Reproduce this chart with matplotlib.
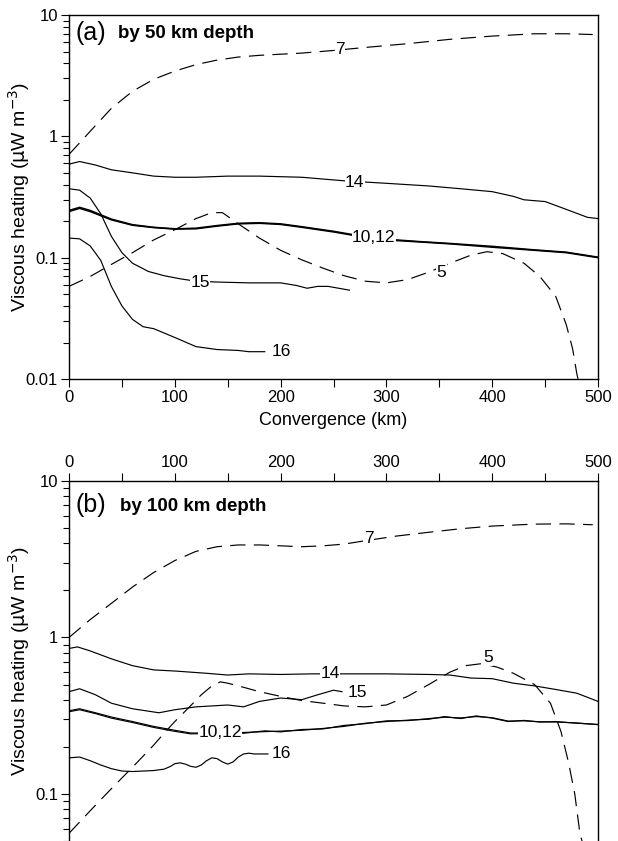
import numpy as np
import matplotlib
matplotlib.use("Agg")
import matplotlib.pyplot as plt
from matplotlib.ticker import LogLocator, NullFormatter, FixedLocator

plt.rcParams['font.family'] = ['Liberation Sans', 'DejaVu Sans']
plt.rcParams['lines.scale_dashes'] = False

# ---- (a) viscous heating, by 50 km depth ----
a7_x = [0, 20, 40, 60, 80, 100, 120, 140, 160, 180, 200, 220, 250, 280, 320, 360, 400, 440, 470, 495]
a7_y = [0.71, 1.1, 1.7, 2.35, 2.95, 3.45, 3.9, 4.25, 4.5, 4.65, 4.75, 4.85, 5.1, 5.4, 5.8, 6.3, 6.7, 7.0, 7.0, 6.9]

a14_x = [0, 10, 25, 40, 60, 80, 100, 120, 150, 180, 220, 260, 300, 340, 370, 400, 420, 430, 450, 470, 490, 500]
a14_y = [0.59, 0.62, 0.58, 0.53, 0.5, 0.47, 0.46, 0.46, 0.47, 0.47, 0.46, 0.43, 0.41, 0.39, 0.37, 0.35, 0.32, 0.30, 0.29, 0.25, 0.215, 0.21]

a10_x = [0, 10, 20, 40, 60, 80, 100, 120, 140, 160, 180, 200, 220, 250, 270, 300, 330, 360, 400, 440, 470, 500]
a10_y = [0.24, 0.255, 0.24, 0.205, 0.185, 0.177, 0.172, 0.173, 0.182, 0.19, 0.192, 0.188, 0.178, 0.163, 0.152, 0.14, 0.135, 0.13, 0.122, 0.115, 0.11, 0.10]
a12_y = [0.245, 0.26, 0.245, 0.208, 0.187, 0.178, 0.173, 0.175, 0.184, 0.192, 0.194, 0.19, 0.18, 0.165, 0.154, 0.142, 0.136, 0.131, 0.124, 0.116, 0.111, 0.101]

a5_x = [0, 20, 40, 60, 80, 100, 120, 135, 145, 160, 180, 200, 220, 240, 260, 280, 300, 320, 340, 360, 380, 395, 410, 430, 445, 460, 470, 476, 480, 483]
a5_y = [0.058, 0.07, 0.088, 0.11, 0.14, 0.17, 0.21, 0.235, 0.235, 0.19, 0.145, 0.115, 0.096, 0.082, 0.071, 0.064, 0.062, 0.066, 0.076, 0.09, 0.105, 0.112, 0.108, 0.09, 0.07, 0.048, 0.028, 0.0177, 0.011, 0.0085]

a15_x = [0, 10, 20, 30, 40, 50, 60, 75, 90, 105, 120, 140, 170, 200, 215, 225, 235, 245, 265]
a15_y = [0.37, 0.36, 0.31, 0.23, 0.15, 0.11, 0.09, 0.077, 0.071, 0.067, 0.064, 0.063, 0.062, 0.062, 0.059, 0.056, 0.058, 0.058, 0.054]

a16_x = [0, 10, 20, 30, 40, 50, 60, 70, 80, 100, 120, 140, 160, 170, 185]
a16_y = [0.145, 0.143, 0.125, 0.095, 0.058, 0.04, 0.031, 0.027, 0.026, 0.022, 0.0185, 0.0175, 0.0172, 0.0168, 0.0168]

# ---- (b) viscous heating, by 100 km depth ----
b7_x = [0, 20, 40, 60, 80, 100, 120, 140, 160, 180, 200, 220, 240, 260, 280, 310, 340, 370, 400, 440, 470, 495]
b7_y = [1.0, 1.3, 1.65, 2.1, 2.6, 3.1, 3.55, 3.8, 3.9, 3.9, 3.85, 3.8, 3.85, 3.95, 4.15, 4.45, 4.7, 4.95, 5.15, 5.3, 5.32, 5.25]

b14_x = [0, 8, 20, 40, 60, 80, 100, 130, 150, 170, 200, 230, 270, 300, 340, 360, 380, 400, 420, 440, 460, 480, 500]
b14_y = [0.85, 0.87, 0.82, 0.73, 0.66, 0.62, 0.61, 0.59, 0.575, 0.585, 0.58, 0.585, 0.585, 0.585, 0.58, 0.575, 0.55, 0.545, 0.51, 0.49, 0.465, 0.44, 0.39]

b15_x = [0, 10, 25, 40, 60, 85, 100, 120, 150, 165, 180, 200, 220, 235, 250, 258]
b15_y = [0.45, 0.47, 0.43, 0.38, 0.35, 0.33, 0.345, 0.36, 0.37, 0.36, 0.39, 0.41, 0.40, 0.43, 0.46, 0.45]

b10_x = [0, 10, 25, 40, 60, 80, 100, 115, 130, 150, 165, 185, 200, 220, 240, 260, 280, 300, 320, 340, 355, 370, 385, 400, 415, 430, 445, 460, 480, 500]
b10_y = [0.34, 0.35, 0.33, 0.31, 0.29, 0.27, 0.255, 0.245, 0.245, 0.246, 0.247, 0.25, 0.252, 0.255, 0.262, 0.27, 0.283, 0.29, 0.296, 0.30, 0.312, 0.303, 0.315, 0.305, 0.29, 0.295, 0.288, 0.29, 0.283, 0.278]
b12_y = [0.335, 0.345, 0.326, 0.305, 0.286, 0.266, 0.251, 0.242, 0.243, 0.25, 0.244, 0.253, 0.249, 0.258, 0.26, 0.274, 0.281, 0.293, 0.294, 0.303, 0.309, 0.306, 0.312, 0.307, 0.292, 0.293, 0.289, 0.288, 0.284, 0.277]

b5_x = [0, 20, 40, 60, 80, 90, 100, 113, 125, 135, 143, 150, 165, 180, 200, 220, 240, 260, 280, 300, 320, 340, 360, 375, 390, 405, 420, 440, 455, 465, 472, 478, 483, 487]
b5_y = [0.056, 0.078, 0.108, 0.148, 0.205, 0.245, 0.29, 0.355, 0.43, 0.49, 0.52, 0.51, 0.48, 0.45, 0.42, 0.395, 0.38, 0.365, 0.36, 0.37, 0.42, 0.5, 0.6, 0.66, 0.68, 0.645, 0.59, 0.5, 0.38, 0.25, 0.16, 0.1, 0.055, 0.045]

b16_x = [0, 10, 20, 30, 40, 50, 60, 70, 80, 90, 96, 100, 105, 110, 115, 120, 125, 130, 135, 140, 145, 150, 155, 160, 165, 170, 175, 180, 188]
b16_y = [0.17, 0.172, 0.163, 0.153, 0.145, 0.14, 0.139, 0.14, 0.141, 0.144, 0.15, 0.156, 0.158, 0.155, 0.15, 0.148, 0.153, 0.163, 0.17, 0.168, 0.16, 0.155, 0.16, 0.172, 0.18, 0.182, 0.18, 0.18, 0.18]

# curve labels: (text, x, y)
a_labels = [("7", 256, 5.2), ("14", 270, 0.42), ("10,12", 288, 0.146), ("5", 352, 0.076),
            ("15", 124, 0.063), ("16", 201, 0.0168)]
b_labels = [("7", 283, 4.3), ("14", 247, 0.59), ("15", 273, 0.444), ("5", 396, 0.74),
            ("10,12", 143, 0.246), ("16", 201, 0.18)]

DASH = (0, (11, 6))
LW = 0.85


def draw_panel(ax, curves, labels):
    for x, y, style, lw in curves:
        if style == 'dash':
            ax.plot(x, y, color='black', lw=LW, linestyle=DASH)
        else:
            ax.plot(x, y, color='black', lw=lw)
    for txt, x, y in labels:
        ax.text(x, y, txt, fontsize=12.5, ha='center', va='center',
                bbox=dict(facecolor='white', edgecolor='none', pad=0.3))
    ax.set_yscale('log')
    ax.set_xlim(0, 500)
    ax.xaxis.set_major_locator(FixedLocator([0, 100, 200, 300, 400, 500]))
    ax.xaxis.set_minor_locator(FixedLocator([50, 150, 250, 350, 450]))
    ax.yaxis.set_major_locator(LogLocator(base=10, numticks=10))
    ax.yaxis.set_minor_locator(LogLocator(base=10, subs=np.arange(2, 10), numticks=10))
    ax.yaxis.set_minor_formatter(NullFormatter())
    ax.yaxis.set_major_formatter(plt.FuncFormatter(lambda v, p: f"{v:g}"))
    ax.tick_params(axis='both', which='major', direction='out', length=6, width=0.8,
                   labelsize=12, pad=2)
    ax.tick_params(axis='both', which='minor', direction='out', length=4, width=0.8)
    ax.tick_params(axis='x', which='minor', length=6)
    for s in ax.spines.values():
        s.set_linewidth(1.0)
    ax.set_ylabel(r'Viscous heating ($\mathrm{\mu}$W m$^{-3}$)', fontsize=14)
    ax.yaxis.set_label_coords(-0.07, 0.5)


fig = plt.figure(figsize=(6.18, 8.41), dpi=100)

ax1 = fig.add_axes([0.1117, 0.5493, 0.8560, 0.4329])
draw_panel(ax1, [
    (a7_x, a7_y, 'dash', LW),
    (a14_x, a14_y, 'solid', LW),
    (a10_x, a10_y, 'solid', 1.1),
    (a10_x, a12_y, 'solid', 1.1),
    (a5_x, a5_y, 'dash', LW),
    (a15_x, a15_y, 'solid', LW),
    (a16_x, a16_y, 'solid', LW),
], a_labels)
ax1.set_ylim(0.01, 10)
ax1.set_xlabel('Convergence (km)', fontsize=13, labelpad=5)
ax1.text(0.013, 0.951, '(a)', transform=ax1.transAxes, fontsize=18, va='center', ha='left')
ax1.text(0.093, 0.948, 'by 50 km depth', transform=ax1.transAxes, fontsize=13.5,
         fontweight='bold', va='center', ha='left')

ax2 = fig.add_axes([0.1117, 0.0, 0.8560, 0.4281])
draw_panel(ax2, [
    (b7_x, b7_y, 'dash', LW),
    (b14_x, b14_y, 'solid', LW),
    (b15_x, b15_y, 'solid', LW),
    (b10_x, b10_y, 'solid', LW),
    (b10_x, b12_y, 'solid', LW),
    (b5_x, b5_y, 'dash', LW),
    (b16_x, b16_y, 'solid', LW),
], b_labels)
ax2.set_ylim(0.05, 10)
ax2.xaxis.tick_top()
ax2.spines['bottom'].set_visible(False)
ax2.text(0.013, 0.933, '(b)', transform=ax2.transAxes, fontsize=18, va='center', ha='left')
ax2.text(0.097, 0.93, 'by 100 km depth', transform=ax2.transAxes, fontsize=13.5,
         fontweight='bold', va='center', ha='left')

fig.savefig('out.png', dpi=100)
